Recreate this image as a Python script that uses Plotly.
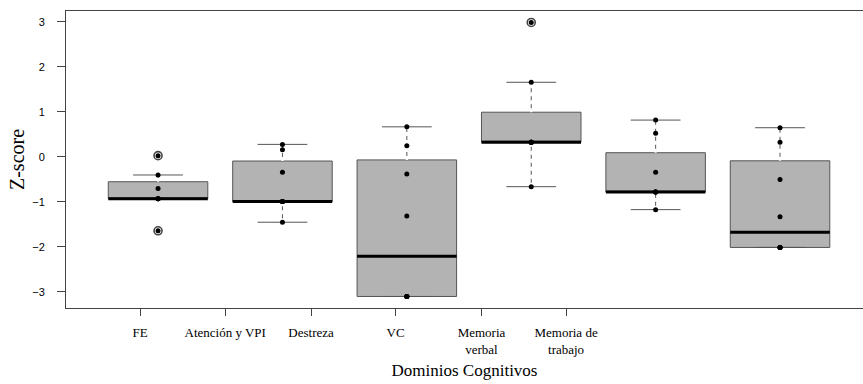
import numpy as np
import plotly.graph_objects as go

# ---- data ----
categories = ["FE", "Atención y VPI", "Destreza", "VC", "Memoria<br>verbal", "Memoria de<br>trabajo"]
fe = [0.03, -0.40, -0.70, -0.93, -0.93, -0.93, -0.93, -1.64]
atencion = [0.28, 0.16, -0.34, -0.99, -0.99, -0.99, -0.99, -1.45]
destreza = [0.67, 0.25, -0.38, -1.31, -3.10, -3.10, -3.10, -3.10]
vc = [2.99, 1.66, 0.33, 0.33, 0.33, 0.33, 0.33, -0.66]
mem_verbal = [0.82, 0.53, -0.34, -0.78, -0.78, -0.78, -0.78, -1.17]
mem_trabajo = [0.65, 0.33, -0.50, -1.33, -2.01, -2.01, -2.01, -2.01]
series = [fe, atencion, destreza, vc, mem_verbal, mem_trabajo]
tick_positions = [0.855, 1.54, 2.23, 2.91, 3.60, 4.28]
y_ticks = [-3, -2, -1, 0, 1, 2, 3]

BOXW = 0.8
fig = go.Figure()


def hinges(v):
    s = np.sort(np.asarray(v, float))
    n = len(s)
    half = (n + 1) // 2
    lo = s[:half]
    hi = s[n - half:]
    return np.median(lo), np.median(s), np.median(hi)


for i, vals in enumerate(series):
    pos = i + 1
    fig.add_trace(go.Box(
        y=vals, x=[pos] * len(vals), width=BOXW,
        quartilemethod="inclusive", boxpoints="outliers",
        fillcolor="#b3b3b3", line=dict(color="#555555", width=1),
        whiskerwidth=0.5,
        marker=dict(symbol="circle-open", size=8, color="#444444",
                    line=dict(width=1.6, color="#444444")),
        showlegend=False, hoverinfo="skip"))

# dashed look for whiskers + thick medians
for i, vals in enumerate(series):
    pos = i + 1
    q1, med, q3 = hinges(vals)
    iqr = q3 - q1
    arr = np.asarray(vals, float)
    up = arr[arr <= q3 + 1.5 * iqr].max()
    lo = arr[arr >= q1 - 1.5 * iqr].min()
    for a, b in ((q3, up), (lo, q1)):
        if b - a > 1e-9:
            fig.add_trace(go.Scatter(x=[pos, pos], y=[a, b], mode="lines",
                                     line=dict(color="white", width=2.2, dash="4px,4px"),
                                     showlegend=False, hoverinfo="skip"))
    fig.add_trace(go.Scatter(x=[pos - BOXW / 2, pos + BOXW / 2], y=[med, med], mode="lines",
                             line=dict(color="black", width=3),
                             showlegend=False, hoverinfo="skip"))

# all points
px, py = [], []
for i, vals in enumerate(series):
    px += [i + 1] * len(vals)
    py += list(vals)
fig.add_trace(go.Scatter(x=px, y=py, mode="markers",
                         marker=dict(color="black", size=5),
                         showlegend=False, hoverinfo="skip"))

fig.update_layout(
    width=863, height=384,
    margin=dict(l=66, r=0, t=11, b=76),
    plot_bgcolor="white", paper_bgcolor="white",
    xaxis=dict(range=[0.26, 6.667], tickvals=tick_positions, ticktext=categories,
               showline=True, mirror=True, linecolor="#444444", linewidth=1,
               ticks="outside", ticklen=7, tickcolor="#444444",
               showgrid=False, zeroline=False, ticklabelstandoff=5,
               tickfont=dict(family="Liberation Serif", size=13, color="black"),
               title=dict(text="Dominios Cognitivos", standoff=8,
                          font=dict(family="Liberation Serif", size=17, color="black"))),
    yaxis=dict(range=[-3.356, 3.244], tickvals=y_ticks,
               showline=True, mirror=False, linecolor="#444444", linewidth=1,
               ticks="outside", ticklen=8, tickcolor="#444444",
               showgrid=False, zeroline=False, ticklabelstandoff=10,
               tickfont=dict(family="Liberation Sans", size=11, color="black"),
               title=dict(text="Z-score", standoff=2,
                          font=dict(family="Liberation Serif", size=20, color="black"))),
)

fig.write_html("out.html")
